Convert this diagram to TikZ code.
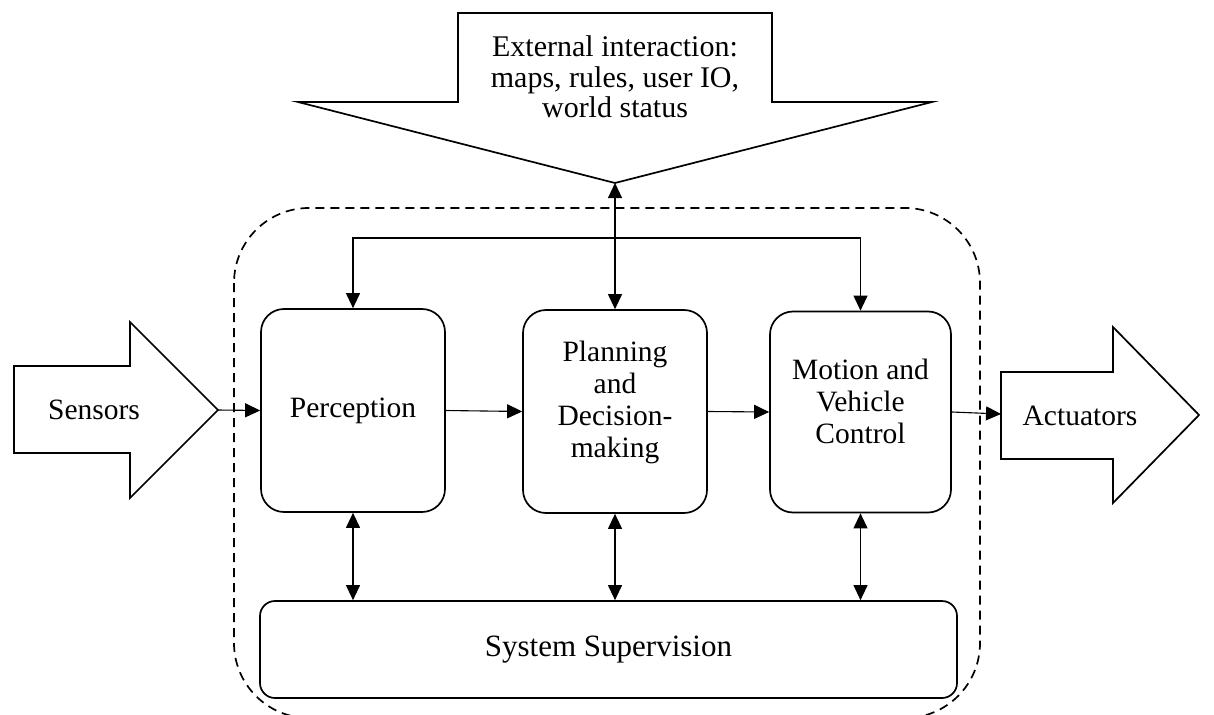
\documentclass[tikz,border=0pt]{standalone}
\usepackage{fontspec}
\setmainfont{Liberation Serif}
\usetikzlibrary{arrows.meta}
\begin{document}
\begin{tikzpicture}[x=1pt,y=-1pt,
  blok/.style={draw,line width=1.7pt,rounded corners=23pt,minimum width=184pt,minimum height=203pt,inner sep=0pt},
  txt/.style={align=center,font=\fontsize{29.5}{32}\selectfont},
  conn/.style={line width=1.1pt,-{Triangle[length=15pt,width=14pt]}},
  dbl/.style={line width=1.1pt,{Triangle[length=15pt,width=14pt]}-{Triangle[length=15pt,width=14pt]}}]
\useasboundingbox (0,0) rectangle (1214,714);

% dashed frame round the system
\draw[line width=1.7pt,dash pattern=on 9pt off 6pt,rounded corners=75pt] (234,208) rectangle (980,718);

% the three blocks
\node[blok] (perc) at (353,410.5) {};
\node[txt] (percTxt) at (perc.center) {Perception};
\node[blok] (plan) at (615,411.5) {};
\node[txt] (planTxt) at ([yshift=9pt]plan.center) {Planning\\and\\Decision-\\making};
\node[blok,minimum width=181pt,minimum height=201pt] (motn) at (860.5,412) {};
\node[txt] (motnTxt) at ([yshift=11pt]motn.center) {Motion and\\Vehicle\\Control};

\node[draw,line width=1.7pt,rounded corners=15pt,minimum width=697pt,minimum height=97pt,inner sep=0pt,
  font=\fontsize{31}{34}\selectfont] (supv) at (608.5,649.5) {System Supervision};

% block arrows
\draw[line width=1.7pt] (458,13) -- (772,13) -- (772,102) -- (932,102) -- (615,183) -- (298,102) -- (458,102) -- cycle;
\node[txt,font=\fontsize{30}{30.5}\selectfont] (ext) at (615,77) {External interaction:\\maps, rules, user IO,\\world status};
\coordinate (extTip) at (615,183);

\draw[line width=1.7pt] (14,366) -- (130,366) -- (130,322) -- (218,410) -- (130,498) -- (130,453) -- (14,453) -- cycle;
\node[txt] (sens) at (94,410) {Sensors};
\coordinate (sensTip) at (218,410);

\draw[line width=1.7pt] (1001,372) -- (1113,372) -- (1113,327) -- (1199,415) -- (1113,503) -- (1113,459) -- (1001,459) -- cycle;
\node[txt] (actu) at (1080,416) {Actuators};
\coordinate (actuIn) at (1001,414);

% connectors
\coordinate (busy) at (0,238);
\draw[dbl] (perc.north) -- (perc.north |- busy) -- (motn.north |- busy) -- (motn.north);
\draw[dbl] (extTip) -- (plan.north);

\draw[conn] (sensTip) -- (perc.west);
\draw[conn] (perc.east) -- (plan.west);
\draw[conn] (plan.east) -- (motn.west);
\draw[conn] (motn.east) -- (actuIn);

\draw[dbl] (perc.south) -- (perc.south |- supv.north);
\draw[dbl] (plan.south) -- (plan.south |- supv.north);
\draw[dbl] (motn.south) -- (motn.south |- supv.north);
\end{tikzpicture}
\end{document}
